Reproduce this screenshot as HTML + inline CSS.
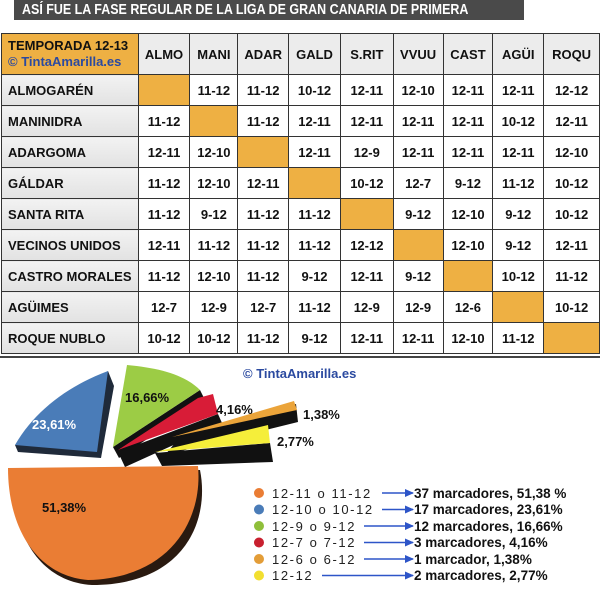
<!DOCTYPE html>
<html><head><meta charset="utf-8"><style>
body{margin:0;width:600px;height:609px;background:#fff;overflow:hidden;position:relative;font-family:"Liberation Sans",Arial,sans-serif}
.title{position:absolute;left:14px;top:0;width:510px;height:20px;background:#4a4a4a;overflow:hidden}
.title span{position:absolute;left:8px;top:0;color:#fff;font-weight:bold;font-size:14.5px;line-height:21px;white-space:nowrap;transform-origin:0 0;transform:scaleX(0.86)}
table{position:absolute;left:1px;top:33px;border-collapse:collapse;font-weight:bold;font-size:13px;color:#111}
td{border:1.5px solid #333;text-align:center;padding:0}
tr{height:31px}
tr.h{height:41px}
tr.h td{background:#ececec}
td.l{text-align:left;padding-left:6px;background:linear-gradient(#f2f2f2,#e2e2e2)}
td.o{background:#eeb043}
td.hd{background:#eeb043 !important;text-align:left;padding-left:6px;line-height:16px}
.sep{position:absolute;left:0;top:356px;width:600px;height:2px;background:#444}
</style></head><body>
<div class="title"><span>ASÍ FUE LA FASE REGULAR DE LA LIGA DE GRAN CANARIA DE PRIMERA</span></div>
<table>
<colgroup><col style="width:137px"><col style="width:52px"><col style="width:48px"><col style="width:51px"><col style="width:52px"><col style="width:53px"><col style="width:50px"><col style="width:50px"><col style="width:51px"><col style="width:56px"></colgroup>
<tr class="h"><td class="hd">TEMPORADA 12-13<br><span style="color:#2b4aa0">© TintaAmarilla.es</span></td><td>ALMO</td><td>MANI</td><td>ADAR</td><td>GALD</td><td>S.RIT</td><td>VVUU</td><td>CAST</td><td>AGÜI</td><td>ROQU</td></tr>
<tr><td class="l">ALMOGARÉN</td><td class="o"></td><td>11-12</td><td>11-12</td><td>10-12</td><td>12-11</td><td>12-10</td><td>12-11</td><td>12-11</td><td>12-12</td></tr>
<tr><td class="l">MANINIDRA</td><td>11-12</td><td class="o"></td><td>11-12</td><td>12-11</td><td>12-11</td><td>12-11</td><td>12-11</td><td>10-12</td><td>12-11</td></tr>
<tr><td class="l">ADARGOMA</td><td>12-11</td><td>12-10</td><td class="o"></td><td>12-11</td><td>12-9</td><td>12-11</td><td>12-11</td><td>12-11</td><td>12-10</td></tr>
<tr><td class="l">GÁLDAR</td><td>11-12</td><td>12-10</td><td>12-11</td><td class="o"></td><td>10-12</td><td>12-7</td><td>9-12</td><td>11-12</td><td>10-12</td></tr>
<tr><td class="l">SANTA RITA</td><td>11-12</td><td>9-12</td><td>11-12</td><td>11-12</td><td class="o"></td><td>9-12</td><td>12-10</td><td>9-12</td><td>10-12</td></tr>
<tr><td class="l">VECINOS UNIDOS</td><td>12-11</td><td>11-12</td><td>11-12</td><td>11-12</td><td>12-12</td><td class="o"></td><td>12-10</td><td>9-12</td><td>12-11</td></tr>
<tr><td class="l">CASTRO MORALES</td><td>11-12</td><td>12-10</td><td>11-12</td><td>9-12</td><td>12-11</td><td>9-12</td><td class="o"></td><td>10-12</td><td>11-12</td></tr>
<tr><td class="l">AGÜIMES</td><td>12-7</td><td>12-9</td><td>12-7</td><td>11-12</td><td>12-9</td><td>12-9</td><td>12-6</td><td class="o"></td><td>10-12</td></tr>
<tr><td class="l">ROQUE NUBLO</td><td>10-12</td><td>10-12</td><td>11-12</td><td>9-12</td><td>12-11</td><td>12-11</td><td>12-10</td><td>11-12</td><td class="o"></td></tr>
</table>
<div class="sep"></div>
<svg width="600" height="609" style="position:absolute;left:0;top:0" font-family="Liberation Sans, Arial, sans-serif" font-weight="bold">
<defs><marker id="ar" markerUnits="userSpaceOnUse" markerWidth="9" markerHeight="8" refX="8" refY="4" orient="auto"><path d="M0,0 L9,4 L0,8 z" fill="#2d55c8"/></marker></defs>
<path d="M12,474 L200,470 C210,520 185,585 92,585 C40,582 12,535 12,474 z" fill="#2a1a10"/>
<path d="M8,468 L198,466 C203,520 170,578 88,580 C38,576 8,530 8,468 z" fill="#ea7d34"/>
<path d="M108,371 L114,386 L101,458 L18,452 L15,445 z" fill="#1f2a3a"/>
<path d="M108,371 C70,385 35,410 15,445 L97,452 z" fill="#4a7cb8"/>
<path d="M200,390 L205,400 L119,458 L113,447 z" fill="#111"/>
<path d="M127,365 C160,368 185,375 200,390 L113,447 z" fill="#9ccc45"/>
<path d="M218,414 L222,423 L125,467 L118,452 z" fill="#111"/>
<path d="M198,398 L213,394 L218,414 L118,450 z" fill="#d81c37"/>
<path d="M296,404 L298,422 L165,455 L180,437 z" fill="#111"/>
<path d="M294,401 L297,410 L172,437 z" fill="#eba43a"/>
<path d="M155,453 L270,443 L273,462 L162,466 z" fill="#111"/>
<path d="M155,452 L268,425 L270,443 z" fill="#f5ee3a"/>
<g font-size="13">
<text x="42" y="512" fill="#111">51,38%</text>
<text x="32" y="429" fill="#fff">23,61%</text>
<text x="125" y="402" fill="#111">16,66%</text>
<text x="216" y="414" fill="#111">4,16%</text>
<text x="303" y="419" fill="#111">1,38%</text>
<text x="277" y="446" fill="#111">2,77%</text>
<text x="243" y="378" fill="#2b4aa0">© TintaAmarilla.es</text>
</g>
<g font-size="13">
<circle cx="259" cy="493" r="5" fill="#ea7d34"/><circle cx="259" cy="509.5" r="5" fill="#4a7cb8"/><circle cx="259" cy="526" r="5" fill="#8fbf3a"/><circle cx="259" cy="542.5" r="5" fill="#c8202f"/><circle cx="259" cy="559" r="5" fill="#e39d38"/><circle cx="259" cy="575.5" r="5" fill="#f2df30"/>
<g font-weight="normal" letter-spacing="1.6" fill="#222">
<text x="272" y="498">12-11 o 11-12</text><text x="272" y="514">12-10 o 10-12</text><text x="272" y="531">12-9 o 9-12</text><text x="272" y="547">12-7 o 7-12</text><text x="272" y="564">12-6 o 6-12</text><text x="272" y="580">12-12</text>
</g>
<g stroke="#2d55c8" stroke-width="1.6" marker-end="url(#ar)">
<line x1="382" y1="493" x2="413" y2="493"/><line x1="382" y1="509.5" x2="413" y2="509.5"/><line x1="364" y1="526" x2="413" y2="526"/><line x1="364" y1="542.5" x2="413" y2="542.5"/><line x1="364" y1="559" x2="413" y2="559"/><line x1="322" y1="575.5" x2="413" y2="575.5"/>
</g>
<g fill="#111" font-size="13.5">
<text x="414" y="498">37 marcadores, 51,38 %</text><text x="414" y="514">17 marcadores, 23,61%</text><text x="414" y="531">12 marcadores, 16,66%</text><text x="414" y="547">3 marcadores, 4,16%</text><text x="414" y="564">1 marcador, 1,38%</text><text x="414" y="580">2 marcadores, 2,77%</text>
</g>
</g>
</svg>
</body></html>
